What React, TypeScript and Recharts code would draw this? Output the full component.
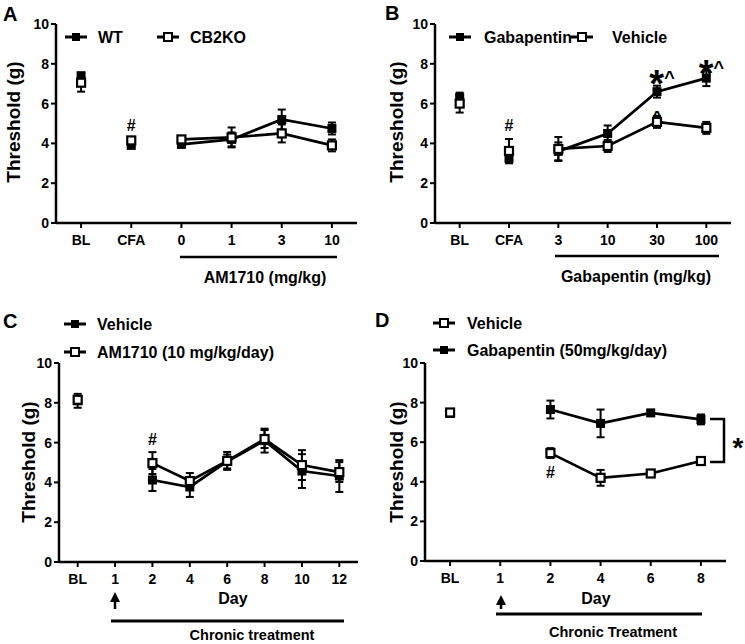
import React from 'react'
import { ComposedChart, Line, XAxis, YAxis, ErrorBar, ReferenceDot } from 'recharts'

const FONT = '"Liberation Sans", Arial, Helvetica, sans-serif'
const yTicks = [0, 2, 4, 6, 8, 10]

// A: AM1710 dose response, WT vs CB2KO
const catsA = ['BL', 'CFA', '0', '1', '3', '10']
const wtA = [7.4, 3.9, 3.95, 4.2, 5.2, 4.75]
const wtErrA = [0.15, 0.1, 0.1, 0.35, 0.5, 0.3]
const cb2koA = [7.05, 4.15, 4.2, 4.3, 4.5, 3.9]
const cb2koErrA = [0.45, 0.15, 0.1, 0.5, 0.45, 0.3]
const annA = [{ x: 'CFA', y: 4.9, text: '#' }]

// B: gabapentin dose response
const catsB = ['BL', 'CFA', '3', '10', '30', '100']
const gabaB = [6.3, 3.25, 3.6, 4.5, 6.6, 7.28]
const gabaErrB = [0.25, 0.25, 0.45, 0.4, 0.3, 0.4]
const vehB = [6.0, 3.62, 3.72, 3.87, 5.08, 4.78]
const vehErrB = [0.45, 0.6, 0.6, 0.3, 0.3, 0.3]
const annB = [
  { x: 'CFA', y: 4.9, text: '#' },
  { x: '30', y: 7.35, text: '*^' },
  { x: '100', y: 7.85, text: '*^' },
  { x: '30', y: 5.45, text: '^' },
]

// C: chronic AM1710
const catsC = ['BL', '1', '2', '4', '6', '8', '10', '12']
const vehC = [8.1, null, 4.12, 3.77, 5.05, 6.1, 4.57, 4.32]
const vehErrC = [0.35, null, 0.55, 0.5, 0.35, 0.6, 0.85, 0.8]
const amC = [8.15, null, 4.97, 4.07, 5.08, 6.18, 4.87, 4.52]
const amErrC = [0.15, null, 0.55, 0.4, 0.45, 0.45, 0.75, 0.5]
const annC = [{ x: '2', y: 6.2, text: '#' }]

// D: chronic gabapentin
const catsD = ['BL', '1', '2', '4', '6', '8']
const vehD = [7.5, null, 5.45, 4.2, 4.42, 5.05]
const vehErrD = [0.15, null, 0.25, 0.4, 0.1, 0.1]
const gabaD = [7.45, null, 7.65, 6.95, 7.48, 7.15]
const gabaErrD = [0.1, null, 0.45, 0.7, 0.15, 0.25]
const annD = [{ x: '2', y: 4.5, text: '#' }]

type Val = number | null

function buildRows(cats: string[], filled: Val[], filledErr: Val[], open: Val[], openErr: Val[], lineFrom: number) {
  return cats.map((cat, i) => ({
    cat,
    f: filled[i],
    fErr: filledErr[i],
    fLine: i >= lineFrom ? filled[i] : null,
    o: open[i],
    oErr: openErr[i],
    oLine: i >= lineFrom ? open[i] : null,
  }))
}

const filledDot = (props: any) => {
  const { cx, cy, index } = props
  if (!Number.isFinite(cx) || !Number.isFinite(cy) || props.value == null) return <g key={`f${index}`} />
  return <rect key={`f${index}`} x={cx - 4.5} y={cy - 4.5} width={9} height={9} fill="#000" />
}

const openDot = (props: any) => {
  const { cx, cy, index } = props
  if (!Number.isFinite(cx) || !Number.isFinite(cy) || props.value == null) return <g key={`o${index}`} />
  return <rect key={`o${index}`} x={cx - 4} y={cy - 4} width={8} height={8} fill="#fff" stroke="#000" strokeWidth={2.2} />
}

function AnnText({ cx, cy, text }: { cx: number; cy: number; text: string }) {
  if (text === '*^') {
    return (
      <text x={cx + 5} y={cy} textAnchor="middle" fontFamily={FONT} fontWeight={700} fill="#000">
        <tspan fontSize={38} dy={20}>*</tspan>
        <tspan fontSize={18} dy={-13}>^</tspan>
      </text>
    )
  }
  if (text === '^') {
    return <text x={cx} y={cy} dy={9} textAnchor="middle" fontSize={18} fontFamily={FONT} fontWeight={700}>^</text>
  }
  return <text x={cx} y={cy} dy={6} textAnchor="middle" fontSize={16} fontFamily={FONT} fontWeight={700}>{text}</text>
}

interface PanelProps {
  rows: any[]
  ann: { x: string; y: number; text: string }[]
  left: number
  top: number
  width: number
  height: number
  margin: { top: number; right: number; bottom: number; left: number }
}

function Panel({ rows, ann, left, top, width, height, margin }: PanelProps) {
  const tick = { fill: '#000', fontSize: 14, fontWeight: 700, fontFamily: FONT }
  return (
    <div style={{ position: 'absolute', left, top }}>
      <ComposedChart width={width} height={height} data={rows} margin={margin}>
        <XAxis
          dataKey="cat"
          type="category"
          scale="band"
          interval={0}
          height={30}
          tickSize={5}
          tickMargin={7}
          axisLine={{ stroke: '#000', strokeWidth: 2.5 }}
          tickLine={{ stroke: '#000', strokeWidth: 2 }}
          tick={tick}
        />
        <YAxis
          domain={[0, 10]}
          ticks={yTicks}
          width={40}
          tickSize={5}
          tickMargin={2}
          allowDataOverflow
          axisLine={{ stroke: '#000', strokeWidth: 2.5 }}
          tickLine={{ stroke: '#000', strokeWidth: 2 }}
          tick={tick}
        />
        <Line dataKey="fLine" stroke="#000" strokeWidth={2.7} dot={false} activeDot={false} isAnimationActive={false} />
        <Line dataKey="oLine" stroke="#000" strokeWidth={2.7} dot={false} activeDot={false} isAnimationActive={false} />
        <Line dataKey="f" stroke="none" dot={filledDot} activeDot={false} isAnimationActive={false}>
          <ErrorBar dataKey="fErr" width={4} strokeWidth={2} stroke="#000" direction="y" />
        </Line>
        <Line dataKey="o" stroke="none" dot={openDot} activeDot={false} isAnimationActive={false}>
          <ErrorBar dataKey="oErr" width={4} strokeWidth={2} stroke="#000" direction="y" />
        </Line>
        {ann.map((a, i) => (
          <ReferenceDot
            key={i}
            x={a.x}
            y={a.y}
            r={0}
            ifOverflow="visible"
            shape={(p: any) => <AnnText cx={p.cx} cy={p.cy} text={a.text} />}
          />
        ))}
      </ComposedChart>
    </div>
  )
}

function LegendKey({ x, y, filled }: { x: number; y: number; filled: boolean }) {
  return (
    <g>
      <line x1={x - 11} x2={x + 11} y1={y} y2={y} stroke="#000" strokeWidth={3} />
      {filled ? (
        <rect x={x - 4} y={y - 4} width={8} height={8} fill="#000" />
      ) : (
        <rect x={x - 4} y={y - 4} width={8} height={8} fill="#fff" stroke="#000" strokeWidth={2} />
      )}
    </g>
  )
}

function Label({ x, y, size = 16, anchor = 'start', rotate = false, children }: any) {
  return (
    <text
      x={x}
      y={y}
      fontSize={size}
      fontFamily={FONT}
      fontWeight={700}
      fill="#000"
      textAnchor={anchor}
      dominantBaseline="central"
      transform={rotate ? `rotate(-90 ${x} ${y})` : undefined}
    >
      {children}
    </text>
  )
}

function Arrow({ x, tip, bottom }: { x: number; tip: number; bottom: number }) {
  return (
    <g>
      <path d={`M${x} ${tip} L${x - 5} ${tip + 10} L${x + 5} ${tip + 10} Z`} fill="#000" />
      <line x1={x} x2={x} y1={tip + 8} y2={bottom} stroke="#000" strokeWidth={2.5} />
    </g>
  )
}

export default function App() {
  const rowsA = buildRows(catsA, wtA, wtErrA, cb2koA, cb2koErrA, 2)
  const rowsB = buildRows(catsB, gabaB, gabaErrB, vehB, vehErrB, 2)
  const rowsC = buildRows(catsC, vehC, vehErrC, amC, amErrC, 2)
  const rowsD = buildRows(catsD, gabaD, gabaErrD, vehD, vehErrD, 2)

  return (
    <div style={{ position: 'absolute', left: 0, top: 0, width: 745, height: 644, background: '#fff', overflow: 'hidden' }}>
      <Panel rows={rowsA} ann={annA} left={0} top={0} width={372} height={320}
        margin={{ top: 24, right: 15, bottom: 67, left: 16 }} />
      <Panel rows={rowsB} ann={annB} left={372} top={0} width={373} height={320}
        margin={{ top: 24, right: 14, bottom: 67, left: 23 }} />
      <Panel rows={rowsC} ann={annC} left={0} top={320} width={372} height={324}
        margin={{ top: 43, right: 14, bottom: 52, left: 19 }} />
      <Panel rows={rowsD} ann={annD} left={372} top={320} width={373} height={324}
        margin={{ top: 43, right: 19, bottom: 53, left: 13 }} />

      <svg width={745} height={644} style={{ position: 'absolute', left: 0, top: 0, pointerEvents: 'none' }}>
        {/* panel letters */}
        <Label x={3} y={14} size={20}>A</Label>
        <Label x={385} y={13} size={20}>B</Label>
        <Label x={3} y={321} size={20}>C</Label>
        <Label x={375} y={320} size={20}>D</Label>

        {/* y labels */}
        <Label x={13} y={122} size={19} anchor="middle" rotate>Threshold (g)</Label>
        <Label x={396} y={122} size={19} anchor="middle" rotate>Threshold (g)</Label>
        <Label x={28} y={462} size={19} anchor="middle" rotate>Threshold (g)</Label>
        <Label x={396} y={462} size={19} anchor="middle" rotate>Threshold (g)</Label>

        {/* legends */}
        <LegendKey x={76} y={37} filled />
        <Label x={98} y={37}>WT</Label>
        <LegendKey x={168} y={37} filled={false} />
        <Label x={190} y={37}>CB2KO</Label>

        <LegendKey x={460} y={37} filled />
        <Label x={484} y={37}>Gabapentin</Label>
        <LegendKey x={582} y={37} filled={false} />
        <Label x={612} y={37}>Vehicle</Label>

        <LegendKey x={75} y={324} filled />
        <Label x={97} y={324}>Vehicle</Label>
        <LegendKey x={75} y={352} filled={false} />
        <Label x={97} y={352}>AM1710 (10 mg/kg/day)</Label>

        <LegendKey x={444} y={323} filled={false} />
        <Label x={467} y={323}>Vehicle</Label>
        <LegendKey x={444} y={350} filled />
        <Label x={467} y={350}>Gabapentin (50mg/kg/day)</Label>

        {/* dose underlines */}
        <line x1={180} x2={337} y1={257} y2={257} stroke="#000" strokeWidth={2.5} />
        <Label x={265} y={277} anchor="middle">AM1710 (mg/kg)</Label>
        <line x1={555} x2={719} y1={256} y2={256} stroke="#000" strokeWidth={2.5} />
        <Label x={636} y={276} anchor="middle">Gabapentin (mg/kg)</Label>

        {/* chronic treatment */}
        <Label x={233} y={598} anchor="middle">Day</Label>
        <Arrow x={115} tip={592} bottom={609} />
        <line x1={111} x2={344} y1={621} y2={621} stroke="#000" strokeWidth={2.8} />
        <Label x={252} y={635} size={14.5} anchor="middle">Chronic treatment</Label>

        <Label x={596} y={598} anchor="middle">Day</Label>
        <Arrow x={501} tip={595} bottom={609} />
        <line x1={496} x2={702} y1={614} y2={614} stroke="#000" strokeWidth={2.8} />
        <Label x={613} y={632} size={14.5} anchor="middle">Chronic Treatment</Label>

        {/* significance bracket */}
        <path d="M710 419 H724 V462 H710" fill="none" stroke="#000" strokeWidth={2.5} />
        <text x={738} y={457} fontSize={28} fontFamily={FONT} fontWeight={700} textAnchor="middle">*</text>
      </svg>
    </div>
  )
}
